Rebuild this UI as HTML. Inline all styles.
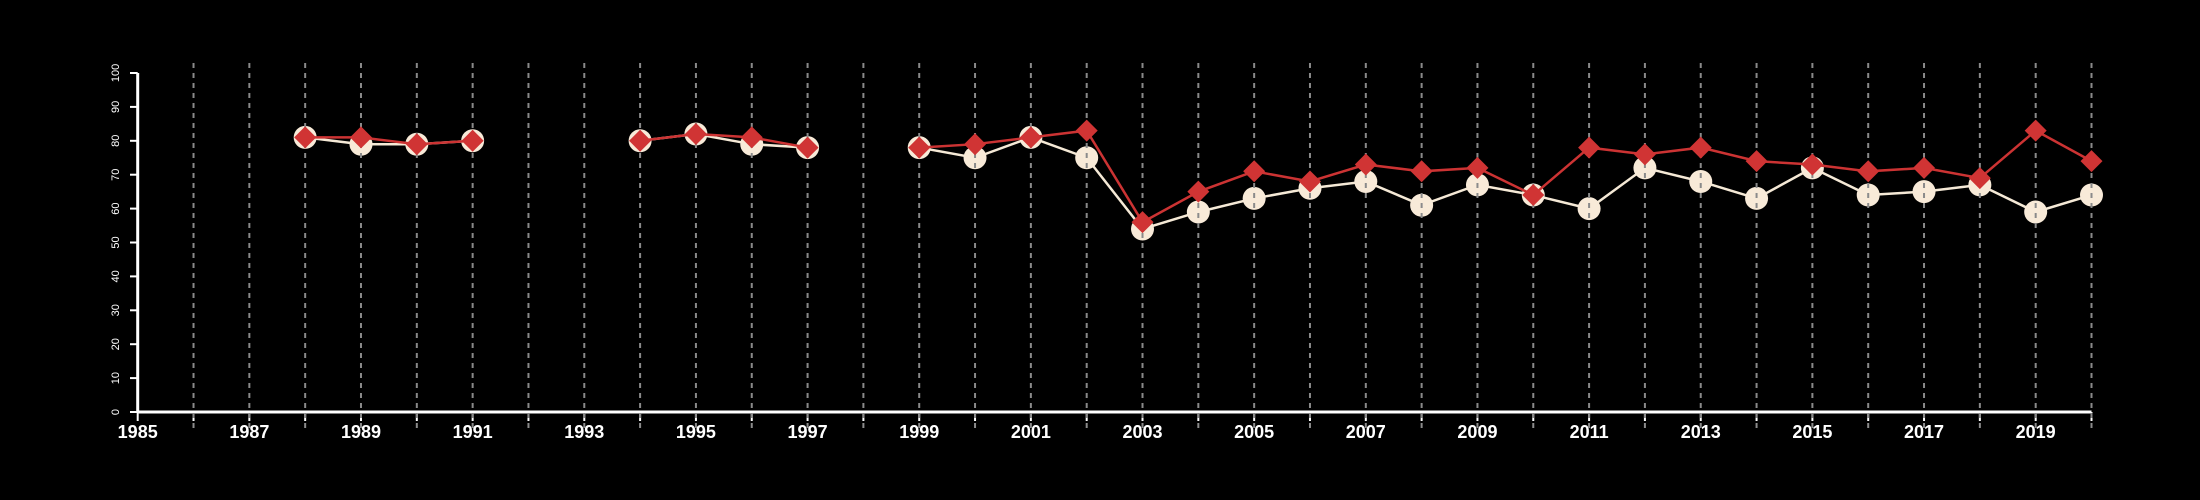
<!DOCTYPE html>
<html><head><meta charset="utf-8"><style>
html,body{margin:0;padding:0;background:#000;}
svg{display:block;}
text{font-family:"Liberation Sans",sans-serif;fill:#fff;}
</style></head><body>
<svg id="chart" width="2200" height="500" viewBox="0 0 2200 500" xmlns="http://www.w3.org/2000/svg">
<rect width="2200" height="500" fill="#000"/>
</svg>
<script>
const years=[1988,1989,1990,1991,1992,1993,1994,1995,1996,1997,1998,1999,2000,2001,2002,2003,2004,2005,2006,2007,2008,2009,2010,2011,2012,2013,2014,2015,2016,2017,2018,2019,2020];
const creamSeries=[81,79,79,80,null,null,80,82,79,78,null,78,75,81,75,54,59,63,66,68,61,67,64,60,72,68,63,72,64,65,67,59,64];
const redSeries=[81,81,79,80,null,null,80,82,81,78,null,78,79,81,83,56,65,71,68,73,71,72,64,78,76,78,74,73,71,72,69,83,74];
const yTicks=[0,10,20,30,40,50,60,70,80,90,100];
const xLabels=[1985,1987,1989,1991,1993,1995,1997,1999,2001,2003,2005,2007,2009,2011,2013,2015,2017,2019];
const xMin=1985,xMax=2020;
const svg=document.getElementById('chart');
const NS='http://www.w3.org/2000/svg';
const X=v=>137.7+(v-xMin)*(2091.5-137.7)/(xMax-xMin);
const Y=v=>412-(v)*(412-73)/100;
function mk(tag,attrs,parent){const e=document.createElementNS(NS,tag);for(const k in attrs)e.setAttribute(k,attrs[k]);(parent||svg).appendChild(e);return e;}
// axes
const axes=mk('g',{});


const xa=mk('line',{x1:X(xMin),x2:X(xMax),y1:412,y2:412,stroke:'#fff','stroke-width':3},axes);


const ya=mk('line',{x1:137.7,x2:137.7,y1:Y(0),y2:Y(100),stroke:'#fff','stroke-width':3},axes);


yTicks.forEach(t=>{
  const l=mk('line',{x1:130,x2:137.7,y1:Y(t),y2:Y(t),stroke:'#fff','stroke-width':2},axes);
  
  
  const tx=mk('text',{x:0,y:0,'font-size':11,'text-anchor':'middle',transform:`translate(119,${Y(t)}) rotate(-90)`},axes);
  tx.textContent=t;
  
  
});
for(let yr=xMin;yr<=xMax;yr++){
  const l=mk('line',{x1:X(yr),x2:X(yr),y1:412,y2:421,stroke:'#fff','stroke-width':2},axes);
  
  
}
xLabels.forEach(v=>{
  const tx=mk('text',{x:X(v),y:438,'font-size':18,'font-weight':'bold','text-anchor':'middle'},axes);
  tx.textContent=v;
  
  
});
function segs(vals){const out=[];let cur=[];vals.forEach((v,i)=>{if(v==null){if(cur.length)out.push(cur);cur=[];}else cur.push([X(years[i]),Y(v)]);});if(cur.length)out.push(cur);return out;}
// cream series
const cg=mk('g',{});


segs(creamSeries).forEach(s=>{
  const p=mk('polyline',{points:s.map(q=>q.join(',')).join(' '),fill:'none',stroke:'#f5e9d6','stroke-width':2.5},cg);
  
  
});
creamSeries.forEach((v,i)=>{if(v==null)return;
  const c=mk('circle',{cx:X(years[i]),cy:Y(v),r:11.5,fill:'#f8ead8'},cg);
  
  
});
// grid
const gg=mk('g',{});


for(let yr=xMin+1;yr<=xMax;yr++){
  const l=mk('line',{x1:X(yr),x2:X(yr),y1:63,y2:428,stroke:'#8a8a8a','stroke-width':2,'stroke-dasharray':'5,5'},gg);
  
  
}
// red series
const rg=mk('g',{});


segs(redSeries).forEach(s=>{
  const p=mk('polyline',{points:s.map(q=>q.join(',')).join(' '),fill:'none',stroke:'#cc3333','stroke-width':2.5},rg);
  
  
});
redSeries.forEach((v,i)=>{if(v==null)return;
  const x=X(years[i]),y=Y(v),d=11;
  const p=mk('polygon',{points:`${x},${y-d} ${x+d},${y} ${x},${y+d} ${x-d},${y}`,fill:'#d03434'},rg);
  
  
});
</script>
</body></html>
